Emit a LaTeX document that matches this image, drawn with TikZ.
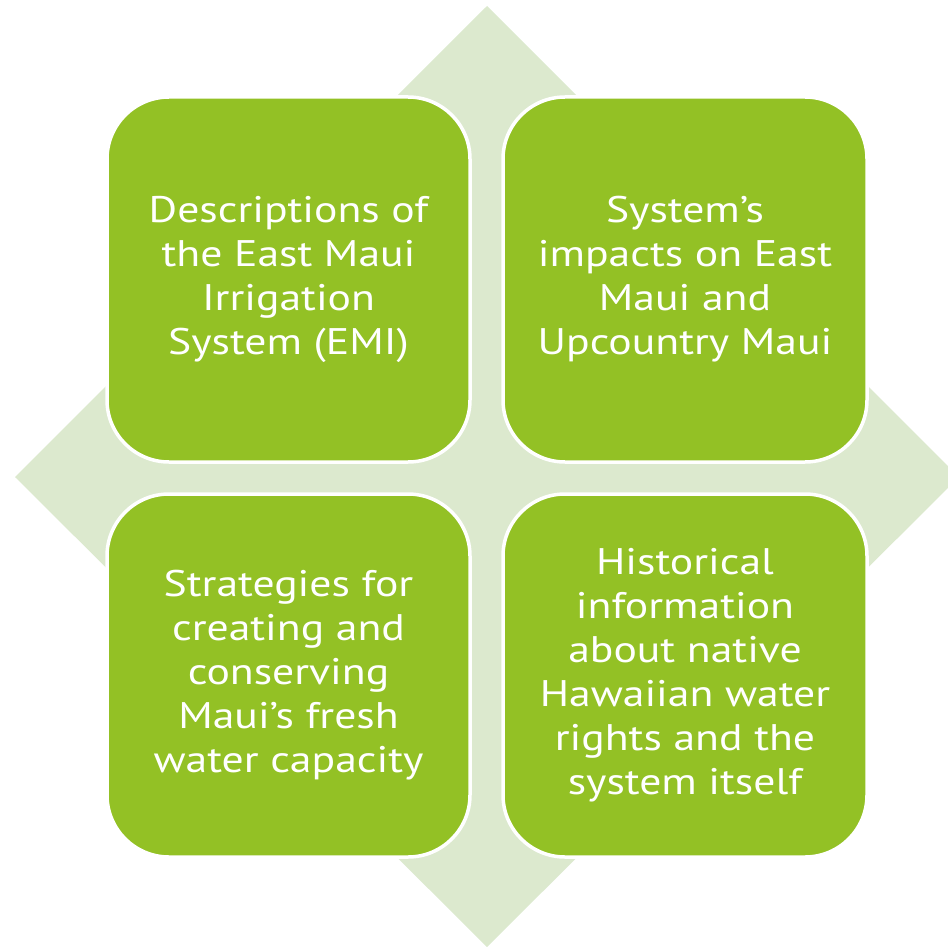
\documentclass[tikz,border=0pt]{standalone}
\usepackage{fontspec}
\setmainfont[FakeStretch=1.18]{PT Sans}
\definecolor{leaf}{RGB}{147,193,37}
\definecolor{mist}{RGB}{220,233,206}
\tikzset{
  tile/.style={draw=white, line width=3.5pt, fill=leaf, rounded corners=62pt},
  tiletext/.style={text=white, align=center, font=\fontsize{37}{44}\selectfont}
}
\begin{document}
\begin{tikzpicture}[x=1pt,y=-1pt]
  \useasboundingbox (0,0) rectangle (948,947);
  \clip (0,0) rectangle (948,947);
  % background diamond
  \fill[mist] (487,6) -- (15,477) -- (487,947) -- (959,477) -- cycle;
  % four tiles
  \draw[tile] (107,97) rectangle (470,462);
  \draw[tile] (503,97) rectangle (867,462);
  \draw[tile] (107,494) rectangle (470,857);
  \draw[tile] (503,494) rectangle (867,857);
  % tile labels
  \node[tiletext] (tl) at (288.5,279.5) {Descriptions of\\the East Maui\\Irrigation\\System (EMI)};
  \node[tiletext] (tr) at (685,279.5) {System’s\\impacts on East\\Maui and\\Upcountry Maui};
  \node[tiletext] (bl) at (288.5,675.5) {Strategies for\\creating and\\conserving\\Maui’s fresh\\water capacity};
  \node[tiletext] (br) at (685,675.5) {Historical\\information\\about native\\Hawaiian water\\rights and the\\system itself};
\end{tikzpicture}
\end{document}
